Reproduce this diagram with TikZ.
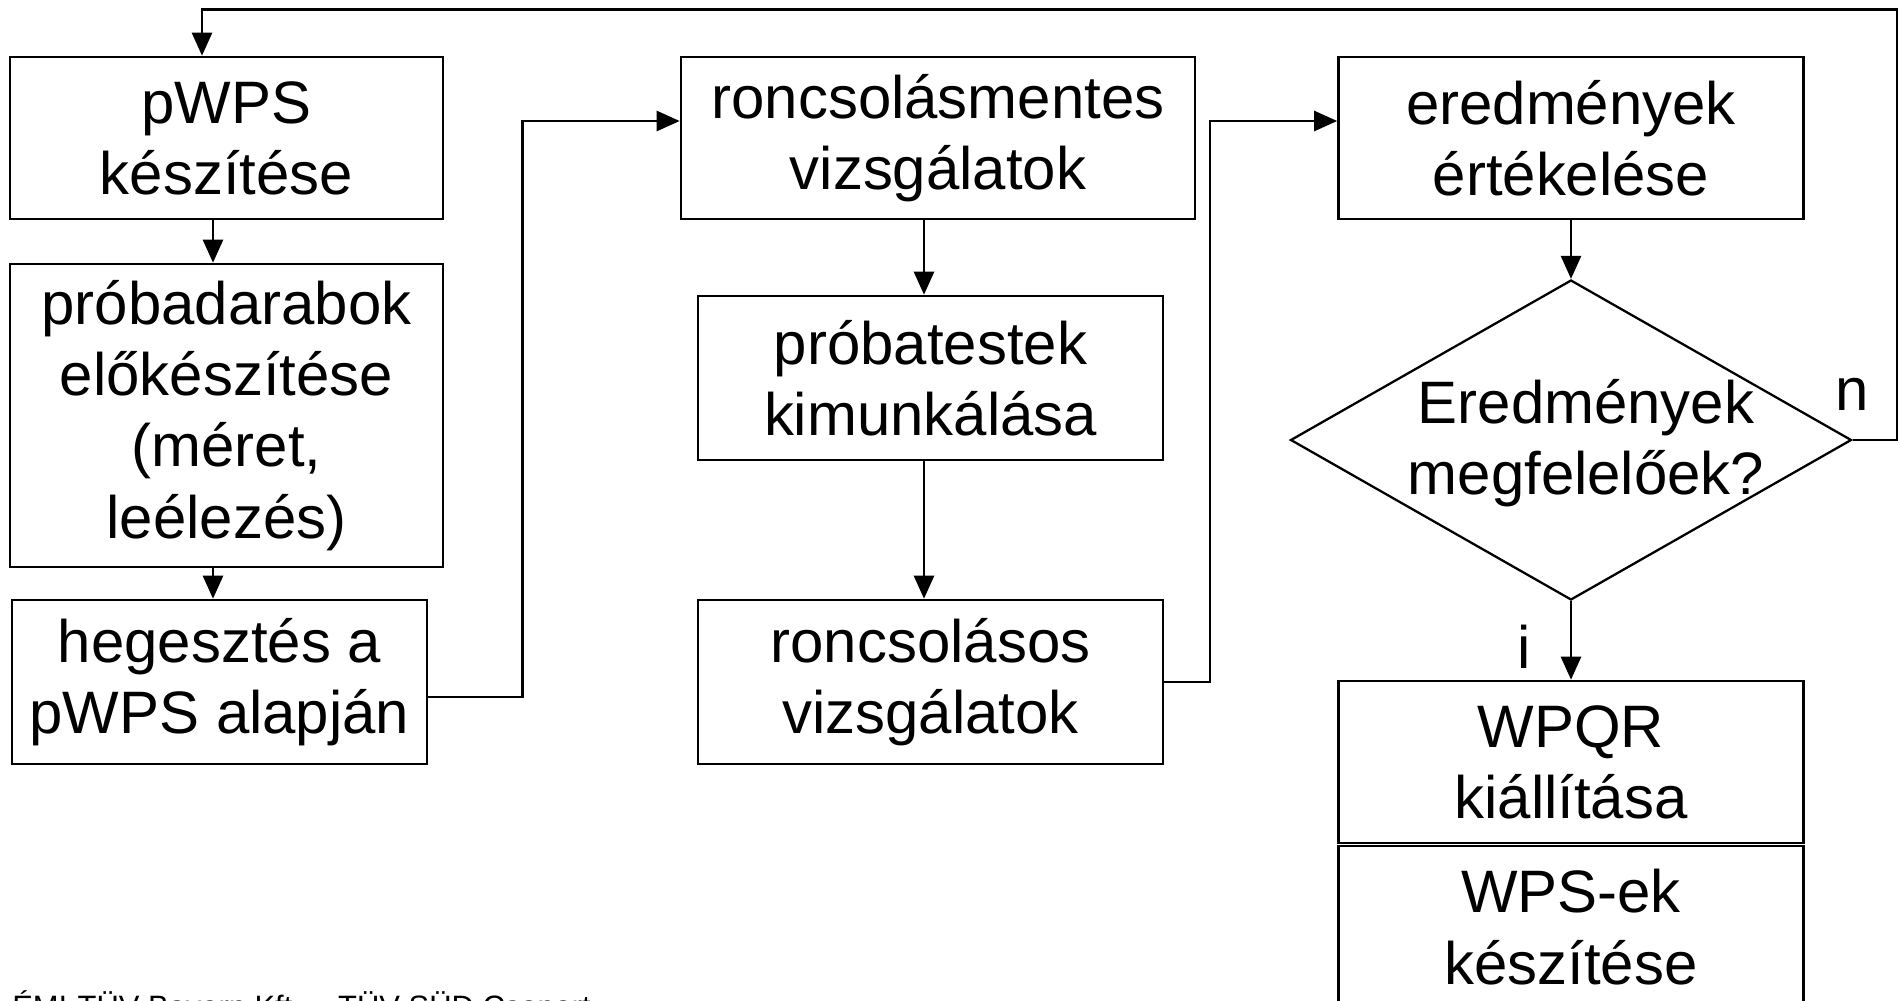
\documentclass[tikz,border=0pt]{standalone}
\usepackage{fontspec}
\setmainfont{Liberation Sans}
\usetikzlibrary{arrows.meta,shapes.geometric}
\newcommand{\pu}{0.02cm}

\begin{document}
\begin{tikzpicture}[x=0.02cm,y=-0.02cm,
		box/.style={draw,line width=1.5pt,rectangle,inner sep=0pt,align=center,
			font=\fontsize{34.1}{40.5}\selectfont},
		decision/.style={draw,line width=1.3pt,diamond,inner sep=0pt},
		txt/.style={inner sep=0pt,align=center,font=\fontsize{34.1}{40.5}\selectfont},
		lbl/.style={inner sep=0pt,font=\fontsize{34.1}{40.5}\selectfont},
		arr/.style={line width=1.5pt,-{Triangle[length=0.46cm,width=0.4cm]}}]
		\useasboundingbox (0,0) rectangle (1901,1001);
		% first column
		\node[box,minimum width=433*\pu,minimum height=162*\pu] (pwps) at (226.5,138) {pWPS\\készítése};
		\node[box,minimum width=433*\pu,minimum height=303*\pu] (proba) at (226.5,415.5) {próbadarabok\\előkészítése\\(méret,\\leélezés)};
		\node[box,minimum width=415*\pu,minimum height=164*\pu] (heg) at (219.5,682) {hegesztés a\\pWPS alapján};
		% second column
		\node[box,minimum width=514*\pu,minimum height=162*\pu] (rmentes) at (938,138) {roncsolásmentes\\vizsgálatok};
		\node[box,minimum width=465*\pu,minimum height=164*\pu] (ptest) at (930.5,378) {próbatestek\\kimunkálása};
		\node[box,minimum width=465*\pu,minimum height=164*\pu] (rsos) at (930.5,682) {roncsolásos\\vizsgálatok};
		% third column
		\node[box,minimum width=465*\pu,minimum height=162*\pu] (ered) at (1571,138) {eredmények\\értékelése};
		\node[decision,minimum width=561*\pu,minimum height=320*\pu] (ok) at (1571,440) {};
		\node[txt] (oktxt) at ([xshift=15*\pu,yshift=-3*\pu]ok) {Eredmények\\megfelelőek?};
		\node[box,minimum width=465*\pu,minimum height=162*\pu] (wpqr) at (1571,762) {WPQR\\kiállítása};
		\node[box,minimum width=465*\pu,minimum height=162*\pu] (wps) at (1571,927) {WPS-ek\\készítése};
		\node[lbl,anchor=base] (nlbl) at ([yshift=30*\pu]ok.east) {n};
		\node[lbl,anchor=base] (ilbl) at ([xshift=-47*\pu,yshift=-67*\pu]ok.south) {i};
		\node[inner sep=0pt,anchor=base west,font=\fontsize{17.6}{20}\selectfont] (foot) at (12,1017) {ÉMI-TÜV Bayern Kft. – TÜV SÜD Csoport};

		\coordinate (colA) at (213,0);
		\coordinate (colB) at (924,0);
		\coordinate (bendA) at (522.5,0);
		\coordinate (bendB) at (1210,0);
		\coordinate (rmIn) at ([yshift=17*\pu]rmentes.west);
		\coordinate (erIn) at ([yshift=17*\pu]ered.west);
		\coordinate (back) at (1897,9.7);
		\coordinate (top) at (202,0);

		\draw[arr] (pwps.south -| colA) -- (proba.north -| colA);
		\draw[arr] (proba.south -| colA) -- (heg.north -| colA);
		\draw[arr] ([yshift=-15*\pu]heg.east) -| (bendA |- rmIn) -- (rmIn);
		\draw[arr] (rmentes.south -| colB) -- (ptest.north -| colB);
		\draw[arr] (ptest.south -| colB) -- (rsos.north -| colB);
		\draw[arr] (rsos.east) -| (bendB |- erIn) -- (erIn);
		\draw[arr] (ered.south) -- (ok.north);
		\draw[arr] (ok.south) -- (wpqr.north);
		\draw[arr] (ok.east) -| (back) -| (pwps.north -| top);
\end{tikzpicture}
\end{document}
